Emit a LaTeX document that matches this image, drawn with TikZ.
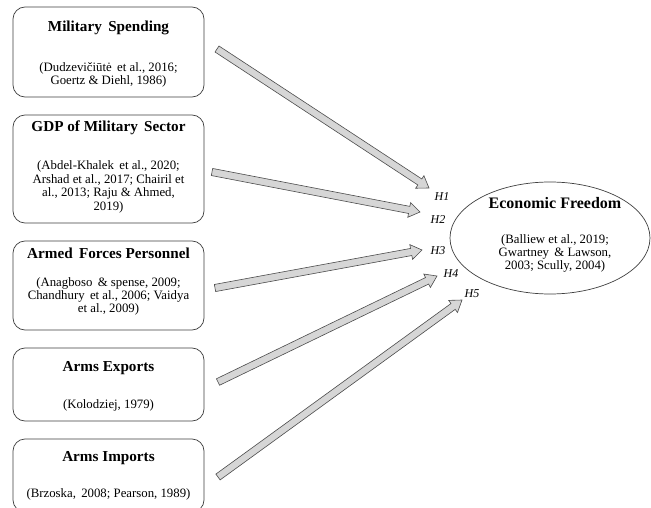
\documentclass[tikz,border=0pt]{standalone}
\usepackage{fontspec}
\setmainfont{Liberation Serif}
\usetikzlibrary{calc}
\newcommand{\blockarrow}[2]{%
  \fill[fill=black!16,draw=black!70,line width=0.6pt,line join=miter]
    ($(#1)!3.6pt!90:(#2)$) --
    ($($(#2)!11pt!(#1)$)!3.6pt!90:(#2)$) --
    ($($(#2)!11pt!(#1)$)!7.5pt!90:(#2)$) --
    (#2) --
    ($($(#2)!11pt!(#1)$)!7.5pt!-90:(#2)$) --
    ($($(#2)!11pt!(#1)$)!3.6pt!-90:(#2)$) --
    ($(#1)!3.6pt!-90:(#2)$) -- cycle;}
\begin{document}
\begin{tikzpicture}[x=1pt,y=-1pt,
  box/.style={draw=black!75,line width=0.7pt,rounded corners=12pt,minimum width=191pt,inner sep=0pt},
  ttl/.style={font=\fontsize{15.2}{16}\selectfont\bfseries,inner sep=0pt},
  cit/.style={font=\fontsize{12.8}{13.4}\selectfont,align=center,inner sep=0pt},
  hyp/.style={font=\fontsize{12}{13}\selectfont\itshape,inner sep=0pt}]
\useasboundingbox (0,0) rectangle (651,508);
\fill[white] (0,0) rectangle (651,508);
% boxes
\node[box,minimum height=90pt] (b1) at (108.5,52) {};
\node[box,minimum height=108pt] (b2) at (108.5,169) {};
\node[box,minimum height=89pt] (b3) at (108.5,285.5) {};
\node[box,minimum height=73pt] (b4) at (108.5,384.5) {};
\node[box,minimum height=73pt] (b5) at (108.5,475.5) {};
% texts
\node[ttl] (t1) at (108.5,28) {Military\, Spending};
\node[cit] (c1) at (108.5,75) {(Dudzevičiūtė\, et al., 2016;\\Goertz \& Diehl, 1986)};
\node[ttl] (t2) at (108.5,128) {GDP of Military\, Sector};
\node[cit] (c2) at (108.5,187) {(Abdel-Khalek\, et al., 2020;\\Arshad et al., 2017; Chairil et\\al., 2013; Raju \& Ahmed,\\2019)};
\node[ttl] (t3) at (108.5,253) {Armed\, Forces Personnel};
\node[cit] (c3) at (108.5,296.5) {(Anagboso\, \& spense, 2009;\\Chandhury\, et al., 2006; Vaidya\\et al., 2009)};
\node[ttl] (t4) at (108.5,368) {Arms Exports};
\node[cit] (c4) at (108.5,405) {(Kolodziej, 1979)};
\node[ttl] (t5) at (108.5,458) {Arms Imports};
\node[cit] (c5) at (108.5,494) {(Brzoska,\, 2008; Pearson, 1989)};
% ellipse
\draw[draw=black!75,line width=0.7pt] (550,238) ellipse [x radius=100pt,y radius=56pt];
\coordinate (ef) at (550,238);
\node[ttl,font=\fontsize{16}{17}\selectfont\bfseries] (te) at (555,203) {Economic Freedom};
\node[cit] (ce) at (555,253.5) {(Balliew et al., 2019;\\Gwartney\, \& Lawson,\\2003; Scully, 2004)};
% arrow ends
\coordinate (s1) at (217,49);  \coordinate (e1) at (429,188);
\coordinate (s2) at (212,172); \coordinate (e2) at (420,212);
\coordinate (s3) at (215,288); \coordinate (e3) at (422,250);
\coordinate (s4) at (218,382); \coordinate (e4) at (437,276);
\coordinate (s5) at (218,477); \coordinate (e5) at (462,300);
\blockarrow{s1}{e1}
\blockarrow{s2}{e2}
\blockarrow{s3}{e3}
\blockarrow{s4}{e4}
\blockarrow{s5}{e5}
% hypotheses
\node[hyp] (h1) at (442,197) {H1};
\node[hyp] (h2) at (438,220) {H2};
\node[hyp] (h3) at (438,251) {H3};
\node[hyp] (h4) at (451,274) {H4};
\node[hyp] (h5) at (472,294) {H5};
\end{tikzpicture}
\end{document}
